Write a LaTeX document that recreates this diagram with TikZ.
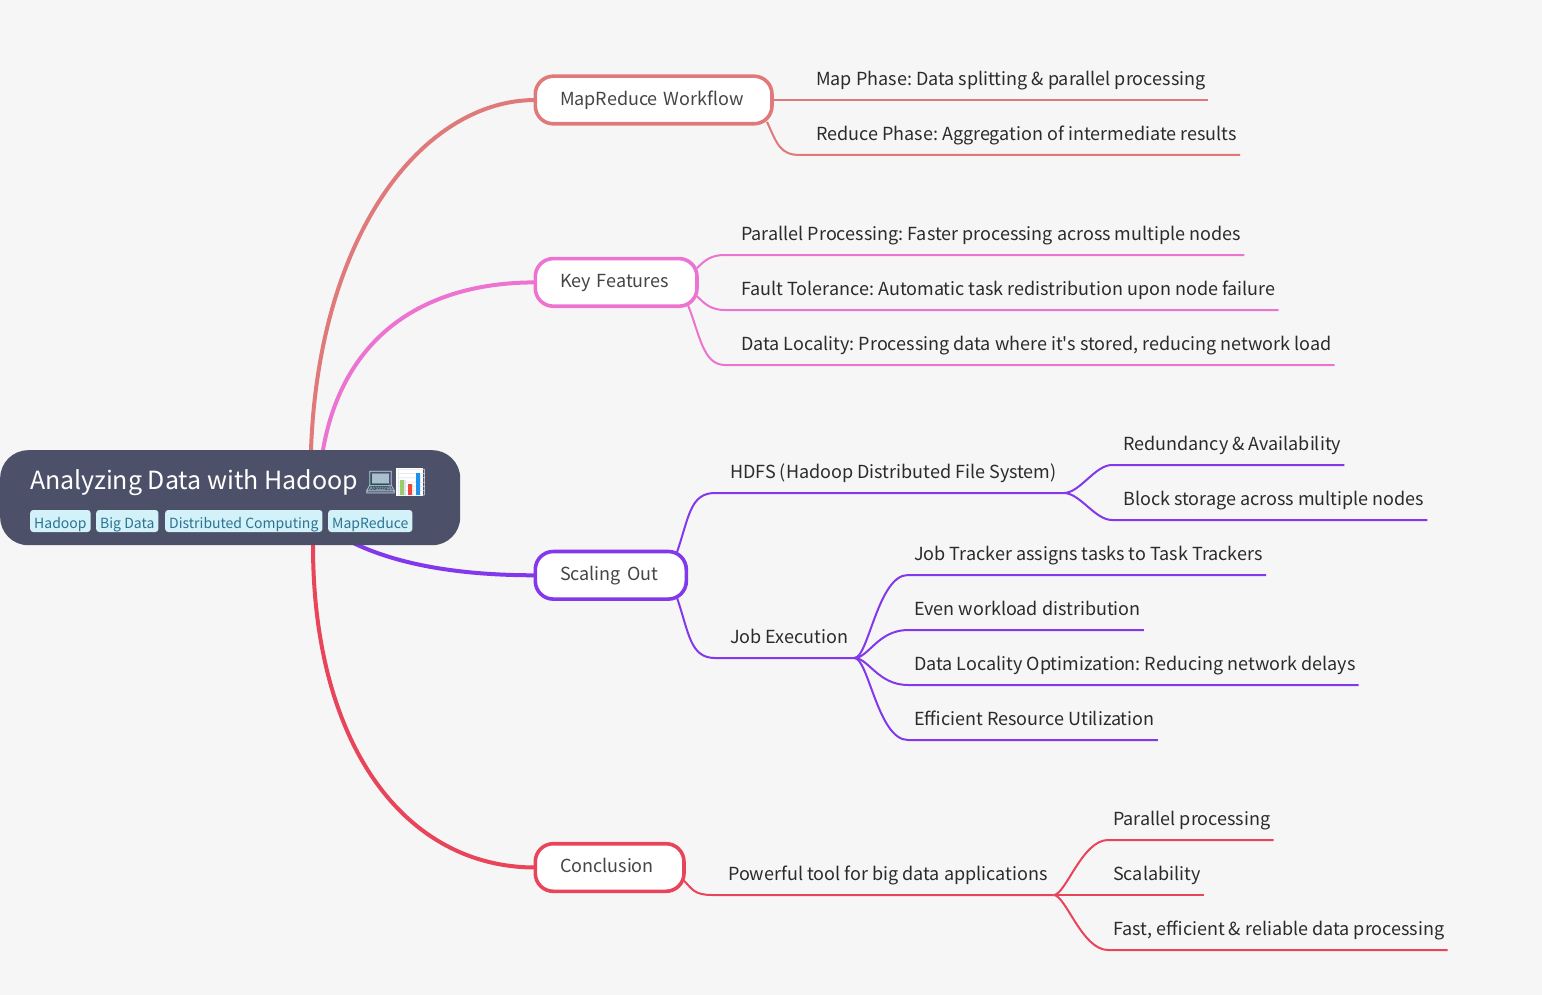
\documentclass[tikz,border=0pt]{standalone}
\usepackage{fontspec}
\setmainfont[Ligatures=TeXOff]{Noto Sans CJK SC}
\newfontfamily\emojifont{Noto Emoji}
\definecolor{bgc}{HTML}{F6F6F6}
\definecolor{rootc}{HTML}{4C5069}
\definecolor{tagbg}{HTML}{D3F1F8}
\definecolor{tagfg}{HTML}{2B7391}
\definecolor{cmr}{HTML}{E07A7A}
\definecolor{ckf}{HTML}{EC74D0}
\definecolor{csc}{HTML}{8338EC}
\definecolor{ccn}{HTML}{E8455A}
\definecolor{leaftxt}{HTML}{2B2B2B}
\definecolor{boxtxt}{HTML}{454545}
\definecolor{lapglyph}{HTML}{A9BFCE}
\definecolor{lapscreen}{HTML}{2F4B57}
\definecolor{chartglyph}{HTML}{DDE3EA}
\definecolor{bargreen}{HTML}{9CCB6B}
\definecolor{barred}{HTML}{F4433C}
\definecolor{barblue}{HTML}{1E90F0}
\pgfdeclarelayer{behind}
\pgfsetlayers{behind,main}
\tikzset{
  mainline/.style={line width=4pt,line cap=round},
  subline/.style={line width=2pt,line cap=butt},
  mainbox/.style={draw=#1,fill=white,line width=3.6pt,outer sep=0pt,rounded corners=18pt,anchor=north west,
    inner xsep=24.7pt,inner ysep=0pt,minimum height=47.6pt,align=left,text=boxtxt,
    text height=17.5pt,text depth=7pt,font=\fontsize{18}{22}\selectfont},
  leaf/.style={anchor=south west,inner sep=0pt,text height=16pt,text depth=14pt,text=leaftxt,
    font=\fontsize{18}{24}\selectfont},
  tagn/.style={fill=tagbg,text=tagfg,rounded corners=3pt,anchor=west,inner xsep=4pt,inner ysep=0pt,
    minimum height=22pt,text height=15pt,text depth=1pt,font=\fontsize{14}{18}\selectfont},
  emo/.style={anchor=base west,inner sep=0pt,font=\fontsize{26}{30}\selectfont\emojifont},
}
\begin{document}
\frenchspacing
\begin{tikzpicture}[x=1pt,y=-1pt]
\useasboundingbox (0,0) rectangle (1542,995);
% nodes
\node[draw=none,fill=rootc,rounded corners=28pt,anchor=north west,inner sep=0pt,minimum width=460pt,minimum height=95pt] (root) at (0,450) {};
\node[anchor=base west,inner sep=0pt,text=white,font=\fontsize{25}{30}\selectfont] (title) at (30,489) {Analyzing Data with Hadoop};
\fill[white] (396,468) rectangle (423,496);
\fill[lapscreen] (369,474) rectangle (388,489);
\node[emo,text=lapglyph] (laptop) at (364,491) {💻};
\node[emo,text=chartglyph] (chart) at (395,491) {📊};
\fill[bargreen] (400,480) rectangle (404,495);
\fill[barred] (408,484) rectangle (412,495);
\fill[barblue] (416,473) rectangle (420,495);
\node[tagn,minimum width=60pt] (t1) at (30,521) {Hadoop};
\node[tagn,minimum width=62pt] (t2) at (96,521) {Big Data};
\node[tagn,minimum width=157pt] (t3) at (165,521) {Distributed Computing};
\node[tagn,minimum width=84pt] (t4) at (328,521) {MapReduce};

\node[mainbox=cmr,text width=187.3pt] (mr) at (535.3,76.2) {MapReduce Workflow};
\node[mainbox=ckf,text width=112.3pt] (kf) at (535.3,258.6) {Key Features};
\node[mainbox=csc,text width=101.6pt] (sc) at (535.3,551.5) {Scaling Out};
\node[mainbox=ccn,text width=99.3pt] (cn) at (535.3,843.7) {Conclusion};

\node[leaf] (mr1) at (816,100) {Map Phase: Data splitting \& parallel processing};
\node[leaf] (mr2) at (816,155) {Reduce Phase: Aggregation of intermediate results};
\node[leaf] (kf1) at (741,255) {Parallel Processing: Faster processing across multiple nodes};
\node[leaf] (kf2) at (741,310) {Fault Tolerance: Automatic task redistribution upon node failure};
\node[leaf] (kf3) at (741,365) {Data Locality: Processing data where it's stored, reducing network load};
\node[leaf] (hd) at (730,493) {HDFS (Hadoop Distributed File System)};
\node[leaf] (hd1) at (1123,465) {Redundancy \& Availability};
\node[leaf] (hd2) at (1123,520) {Block storage across multiple nodes};
\node[leaf] (je) at (730,658) {Job Execution};
\node[leaf] (je1) at (914,575) {Job Tracker assigns tasks to Task Trackers};
\node[leaf] (je2) at (914,630) {Even workload distribution};
\node[leaf] (je3) at (914,685) {Data Locality Optimization: Reducing network delays};
\node[leaf] (je4) at (914,740) {Efficient Resource Utilization};
\node[leaf] (pw) at (728,895) {Powerful tool for big data applications};
\node[leaf] (pw1) at (1113,840) {Parallel processing};
\node[leaf] (pw2) at (1113,895) {Scalability};
\node[leaf] (pw3) at (1113,950) {Fast, efficient \& reliable data processing};

% main connectors (drawn behind the root and boxes)
\begin{pgfonlayer}{behind}
\fill[bgc] (0,0) rectangle (1542,995);
\draw[mainline,cmr] ([xshift=311pt]root.north west) .. controls +(8,-220) and +(-110,0) .. (mr.west);
\draw[mainline,ckf] ([xshift=323pt]root.north west) .. controls +(20,-115) and +(-110,0) .. (kf.west);
\draw[mainline,csc] ([xshift=350pt,yshift=4pt]root.south west) .. controls +(50,25) and +(-70,0) .. (sc.west);
\draw[mainline,ccn] ([xshift=313pt]root.south west) .. controls +(0,200) and +(-130,0) .. (cn.west);
\end{pgfonlayer}

% leaf connectors
\draw[subline,cmr] (mr.east) -- ([xshift=2pt]mr1.south east);
\draw[subline,cmr] ([xshift=-5pt,yshift=2pt]mr.south east) .. controls +(10,22) and +(-20,0) .. ([xshift=-16pt]mr2.south west) -- ([xshift=3pt]mr2.south east);

\draw[subline,ckf] ([yshift=-9.5pt]kf.north east) .. controls +(8,-8) and +(-14,0) .. ([xshift=-16pt]kf1.south west) -- ([xshift=3pt]kf1.south east);
\draw[subline,ckf] ([yshift=10pt]kf.south east) .. controls +(8,8) and +(-14,0) .. ([xshift=-16pt]kf2.south west) -- ([xshift=3pt]kf2.south east);
\draw[subline,ckf] ([xshift=-9pt,yshift=1pt]kf.south east) .. controls +(12,30) and +(-22,0) .. ([xshift=-16pt]kf3.south west) -- ([xshift=3pt]kf3.south east);

\draw[subline,csc] ([xshift=-9.3pt,yshift=-0.7pt]sc.north east) .. controls +(12,-35) and +(-25,0) .. ([xshift=-15pt]hd.south west) -- ([xshift=7pt]hd.south east) coordinate (hdx);
\draw[subline,csc] ([xshift=-9.3pt,yshift=1.3pt]sc.south east) .. controls +(12,35) and +(-25,0) .. ([xshift=-15pt]je.south west) -- ([xshift=6pt]je.south east) coordinate (jex);

\draw[subline,csc] (hdx) .. controls +(16,0) and +(-17,0) .. ([xshift=-11pt]hd1.south west) -- ([xshift=3pt]hd1.south east);
\draw[subline,csc] (hdx) .. controls +(16,0) and +(-17,0) .. ([xshift=-11pt]hd2.south west) -- ([xshift=3pt]hd2.south east);

\draw[subline,csc] (jex) .. controls +(14,0) and +(-30,0) .. ([xshift=-6pt]je1.south west) -- ([xshift=3pt]je1.south east);
\draw[subline,csc] (jex) .. controls +(14,0) and +(-30,0) .. ([xshift=-6pt]je2.south west) -- ([xshift=3pt]je2.south east);
\draw[subline,csc] (jex) .. controls +(14,0) and +(-30,0) .. ([xshift=-6pt]je3.south west) -- ([xshift=3pt]je3.south east);
\draw[subline,csc] (jex) .. controls +(14,0) and +(-30,0) .. ([xshift=-6pt]je4.south west) -- ([xshift=3pt]je4.south east);

\draw[subline,ccn] ([yshift=10.6pt]cn.south east) .. controls +(8,8) and +(-18,0) .. ([xshift=-16pt]pw.south west) -- ([xshift=6pt]pw.south east) coordinate (pwx);
\draw[subline,ccn] (pwx) .. controls +(12,0) and +(-26,0) .. ([xshift=-5pt]pw1.south west) -- ([xshift=3pt]pw1.south east);
\draw[subline,ccn] (pwx) -- ([xshift=3pt]pw2.south east);
\draw[subline,ccn] (pwx) .. controls +(12,0) and +(-26,0) .. ([xshift=-5pt]pw3.south west) -- ([xshift=3pt]pw3.south east);
\end{tikzpicture}
\end{document}
